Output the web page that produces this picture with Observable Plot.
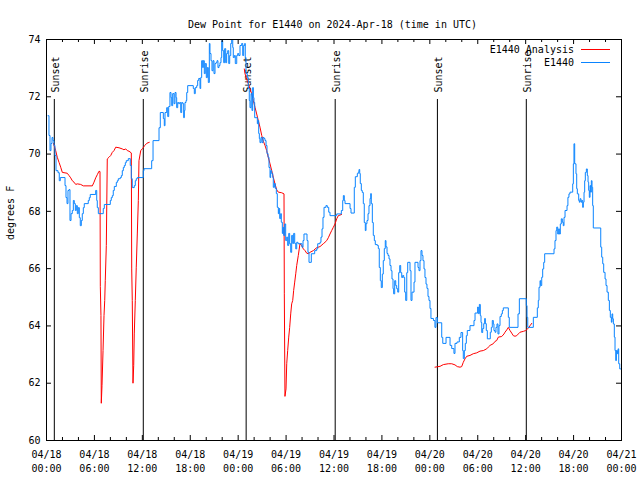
<!DOCTYPE html>
<html><head><meta charset="utf-8">
<script src="https://cdn.jsdelivr.net/npm/d3@7"></script>
<script src="https://cdn.jsdelivr.net/npm/@observablehq/plot@0.6"></script>
<style>body{margin:0;background:#fff}svg{display:block}</style>
</head><body><div id="chart"></div>
<script>
const title = "Dew Point for E1440 on 2024-Apr-18 (time in UTC)";
const yLabel = "degrees F";
const seriesNames = ["E1440 Analysis", "E1440"];
const seriesColors = ["#ff0000", "#0a84ff"];
const tickHours = [0, 6, 12, 18, 24, 30, 36, 42, 48, 54, 60, 66, 72];
const tickLabels = ["04/18\n00:00","04/18\n06:00","04/18\n12:00","04/18\n18:00","04/19\n00:00","04/19\n06:00","04/19\n12:00","04/19\n18:00","04/20\n00:00","04/20\n06:00","04/20\n12:00","04/20\n18:00","04/21\n00:00"];
const minorHours = [2, 4, 8, 10, 14, 16, 20, 22, 26, 28, 32, 34, 38, 40, 44, 46, 50, 52, 56, 58, 62, 64, 68, 70];
const yTicks = [60, 62, 64, 66, 68, 70, 72, 74];
const sunEvents = ["Sunset", "Sunrise", "Sunset", "Sunrise", "Sunset", "Sunrise"];
const sunHours = [0.98, 12.12, 25.0, 36.15, 48.95, 60.08];

// observed dew point (hours since 04/18 00:00 UTC, deg F)
const observed = [[0.19,71.34],[0.31,70.65],[0.44,70.12],[0.56,70.37],[0.69,70.58],[0.81,70.47],[0.94,70.30],[1.06,69.95],[1.19,69.42],[1.44,69.35],[1.60,69.07],[1.73,69.18],[2.32,68.90],[2.44,68.48],[2.57,68.27],[2.69,68.73],[2.82,68.76],[2.94,67.68],[3.07,67.92],[3.23,68.03],[3.36,68.38],[3.48,68.27],[3.61,68.03],[3.73,68.20],[3.86,67.92],[3.98,68.13],[4.11,67.78],[4.23,67.50],[4.36,67.68],[4.48,67.92],[4.61,68.13],[4.73,68.27],[5.23,68.38],[5.36,68.48],[5.48,68.59],[6.16,68.73],[6.29,68.38],[6.36,68.13],[6.49,67.92],[7.11,68.10],[7.24,68.24],[7.99,68.38],[8.11,68.48],[8.24,68.55],[8.36,68.73],[8.49,68.87],[8.74,69.01],[8.87,69.07],[8.99,69.14],[9.24,69.18],[9.37,69.25],[9.49,69.42],[9.62,69.53],[9.74,69.60],[9.87,69.70],[9.99,69.77],[10.24,69.84],[10.49,69.60],[10.62,69.14],[10.74,68.83],[10.99,68.90],[11.12,69.07],[11.24,69.14],[11.37,69.18],[12.12,69.42],[12.21,69.49],[13.17,69.77],[13.34,70.47],[14.09,70.92],[14.25,71.45],[14.63,71.24],[14.75,70.99],[14.84,71.45],[15.05,71.62],[15.18,71.31],[15.30,71.66],[15.46,72.15],[15.59,71.97],[15.68,71.69],[15.80,72.11],[15.97,71.76],[16.09,72.15],[16.22,71.97],[16.30,71.62],[16.43,71.80],[16.55,71.76],[16.68,71.80],[16.81,71.45],[16.93,71.80],[17.06,71.76],[17.18,71.27],[17.26,71.52],[17.34,71.80],[17.47,71.87],[17.56,72.15],[17.68,72.39],[18.38,72.29],[18.51,72.11],[18.63,72.32],[18.81,72.39],[18.93,72.57],[19.06,72.64],[19.22,72.29],[19.31,72.67],[19.43,73.26],[19.56,73.02],[19.63,73.26],[19.76,72.81],[19.88,73.16],[20.01,72.67],[20.14,73.02],[20.26,72.50],[20.39,73.86],[20.47,73.51],[20.60,73.26],[20.72,72.91],[20.85,73.26],[20.97,72.81],[21.10,73.16],[21.22,73.19],[21.35,73.26],[21.47,73.02],[21.60,73.09],[21.72,73.19],[21.85,73.37],[21.94,73.96],[22.06,73.61],[22.19,73.19],[22.31,73.68],[22.44,73.19],[22.56,73.51],[22.69,73.61],[22.82,73.16],[22.94,73.44],[23.07,73.86],[23.19,74.05],[23.32,73.72],[23.39,73.37],[23.52,73.44],[23.64,73.16],[23.82,73.44],[23.94,73.51],[24.07,73.44],[24.23,73.79],[24.44,73.86],[24.57,73.44],[24.69,73.79],[24.82,73.86],[24.89,73.37],[24.98,72.81],[25.14,72.67],[25.27,72.29],[25.39,71.87],[25.48,71.62],[25.61,72.11],[25.73,71.52],[25.82,72.32],[25.90,71.97],[25.98,71.80],[26.07,71.27],[26.40,71.06],[26.48,71.17],[26.57,70.72],[26.65,70.54],[26.73,70.40],[26.86,70.58],[26.99,70.40],[27.11,70.58],[27.24,70.54],[27.36,70.47],[27.49,70.30],[27.61,70.02],[27.74,69.89],[27.86,69.53],[27.99,69.18],[28.07,69.42],[28.20,69.32],[28.33,69.18],[28.40,68.84],[28.53,68.97],[28.65,68.80],[28.78,68.62],[28.90,68.14],[29.03,67.92],[29.11,68.10],[29.20,67.75],[29.33,67.92],[29.40,67.62],[29.53,67.23],[29.61,67.44],[29.70,67.16],[29.83,67.56],[29.95,66.98],[30.08,67.10],[30.20,66.81],[30.33,67.23],[30.45,66.87],[30.58,66.57],[30.70,67.16],[30.83,66.88],[30.95,67.23],[31.08,66.88],[31.21,66.69],[31.33,66.92],[31.49,66.87],[31.99,66.75],[32.12,66.98],[32.24,67.21],[32.62,66.98],[32.74,66.57],[32.87,66.22],[33.16,66.52],[33.58,66.63],[33.83,66.69],[33.96,66.87],[34.25,66.92],[34.37,67.10],[34.50,67.39],[34.62,67.79],[34.75,68.14],[34.99,68.20],[35.16,68.14],[35.34,67.97],[35.50,67.85],[36.34,67.91],[36.92,68.03],[37.09,68.38],[37.17,68.55],[37.29,68.38],[37.38,68.27],[38.01,68.10],[38.13,67.94],[38.54,68.84],[38.67,69.21],[38.92,69.32],[39.04,69.37],[39.13,69.46],[39.22,69.32],[39.29,68.97],[39.42,68.73],[39.54,68.66],[39.67,68.27],[39.79,67.61],[39.92,67.33],[40.01,67.57],[40.13,67.68],[40.26,67.92],[40.38,68.20],[40.51,68.45],[40.60,68.62],[40.67,68.27],[40.80,67.61],[40.92,67.16],[41.05,66.98],[41.17,66.84],[41.42,66.81],[41.55,66.70],[41.67,66.04],[41.80,65.58],[41.92,65.34],[42.05,65.81],[42.17,66.28],[42.30,66.70],[42.42,66.98],[42.51,66.76],[42.64,66.53],[42.76,66.46],[42.89,66.34],[43.01,66.11],[43.14,65.93],[43.26,65.64],[43.39,65.30],[43.47,65.12],[43.60,65.58],[43.73,65.41],[43.85,65.30],[43.98,65.18],[44.10,65.86],[44.23,66.11],[44.35,65.86],[44.48,65.69],[44.60,65.76],[44.73,65.69],[44.85,65.18],[44.98,64.89],[45.11,65.86],[45.23,66.22],[45.52,65.93],[45.64,64.89],[45.77,65.18],[46.02,65.53],[46.14,66.22],[46.52,66.04],[46.64,65.93],[46.77,66.28],[46.89,66.63],[47.02,66.46],[47.14,66.28],[47.27,65.99],[47.39,65.69],[47.52,65.46],[47.64,65.31],[47.77,65.03],[47.89,64.89],[48.02,64.61],[48.14,64.26],[48.45,64.19],[48.64,63.95],[48.77,64.29],[48.94,64.11],[49.49,63.60],[49.62,63.39],[50.03,63.60],[50.53,63.32],[50.74,63.21],[51.02,63.04],[51.15,63.39],[51.40,63.44],[51.69,63.60],[51.90,63.77],[52.11,63.14],[52.19,62.86],[52.32,63.14],[52.44,63.39],[52.57,63.66],[52.69,63.84],[53.03,64.01],[53.53,64.19],[53.66,64.45],[53.99,64.66],[54.07,64.43],[54.20,64.75],[54.32,64.36],[54.41,64.12],[54.50,63.77],[54.62,63.91],[54.75,64.08],[54.87,64.26],[54.95,64.08],[55.07,63.84],[55.20,63.55],[55.57,63.78],[55.70,63.95],[55.82,64.19],[55.95,64.07],[56.03,63.84],[56.16,63.78],[56.28,63.95],[56.41,64.07],[56.53,63.72],[56.66,64.01],[56.79,64.33],[56.95,64.42],[57.08,64.54],[57.20,64.63],[57.83,64.30],[57.95,63.95],[59.04,64.42],[59.21,64.95],[60.08,64.71],[60.17,64.30],[60.26,63.95],[60.96,64.30],[61.46,64.63],[61.58,64.89],[61.67,65.35],[61.80,65.58],[61.88,65.41],[62.01,65.70],[62.13,65.99],[62.26,66.22],[62.38,66.52],[63.55,66.69],[63.67,66.98],[63.80,67.33],[63.89,67.45],[64.01,67.21],[64.14,67.39],[64.21,67.21],[64.34,67.56],[64.46,67.74],[64.59,67.62],[64.71,67.50],[64.80,67.79],[64.93,68.03],[65.18,68.20],[65.29,68.49],[65.42,68.61],[65.55,68.67],[65.89,68.96],[65.97,69.66],[66.05,70.36],[66.14,69.66],[66.30,69.31],[66.39,68.79],[66.47,68.61],[66.64,68.38],[66.72,68.32],[66.81,68.44],[66.93,68.32],[67.02,68.38],[67.14,68.14],[67.22,68.32],[67.31,68.67],[67.39,69.07],[67.47,69.36],[67.60,69.48],[67.72,69.25],[67.81,69.02],[67.89,68.73],[67.97,68.49],[68.06,68.90],[68.14,68.67],[68.22,69.07],[68.31,68.84],[68.39,68.20],[68.47,67.42],[69.40,66.75],[69.52,66.40],[69.65,66.17],[69.77,65.87],[69.94,65.64],[70.06,65.41],[70.19,65.18],[70.35,64.89],[70.48,64.54],[70.60,64.30],[70.73,64.13],[70.81,64.42],[70.90,64.25],[70.98,64.07],[71.10,63.61],[71.19,63.14],[71.28,62.79],[71.36,63.14],[71.48,63.03],[71.57,63.20],[71.65,62.68],[71.78,62.50],[71.90,62.50]];

// analysis, night 1
const analysisNight1 = [[0.88,70.37],[1.15,70.12],[1.35,69.89],[1.57,69.71],[1.78,69.54],[1.98,69.36],[2.60,69.33],[2.82,69.25],[3.03,69.17],[3.23,69.07],[3.44,69.02],[3.66,68.94],[3.86,68.96],[4.28,68.94],[4.61,68.89],[5.74,68.89],[5.95,69.02],[6.16,69.17],[6.36,69.28],[6.57,69.40],[6.70,69.39],[6.74,65.38],[6.82,64.36],[6.86,61.30],[6.95,61.92],[7.08,63.14],[7.20,64.36],[7.29,64.89],[7.36,65.58],[7.49,66.81],[7.61,69.83],[7.83,69.89],[8.04,69.95],[8.24,70.06],[8.45,70.12],[8.67,70.24],[9.08,70.22],[9.49,70.18],[9.70,70.15],[9.92,70.18],[10.12,70.12],[10.33,70.10],[10.62,70.04],[10.67,65.99],[10.74,64.89],[10.83,62.00],[10.92,62.62],[10.99,63.72],[11.12,64.89],[11.24,66.05],[11.37,67.21],[11.50,68.38],[11.58,69.77],[11.80,70.12],[12.05,70.20],[12.30,70.30],[12.58,70.38],[12.87,70.41]];
// analysis, night 2
const analysisNight2 = [[24.77,72.97],[24.86,72.80],[25.07,72.62],[25.27,72.45],[25.48,72.28],[25.70,72.10],[25.90,71.87],[26.11,71.63],[26.32,71.40],[26.52,71.17],[26.73,70.94],[26.95,70.65],[27.15,70.45],[27.36,70.30],[27.57,70.12],[27.77,69.89],[27.99,69.66],[28.20,69.42],[28.40,69.19],[28.61,68.96],[28.83,68.75],[29.03,68.67],[29.45,68.65],[29.74,68.61],[29.78,65.12],[29.86,61.54],[29.99,61.80],[30.08,62.68],[30.20,63.14],[30.33,63.61],[30.45,63.95],[30.58,64.42],[30.70,64.77],[30.83,64.89],[30.95,65.24],[31.08,65.53],[31.21,65.82],[31.33,66.11],[31.53,66.46],[31.74,66.87],[31.96,66.81],[32.16,66.69],[32.37,66.63],[32.58,66.54],[32.78,66.52],[33.00,66.57],[33.41,66.63],[33.83,66.73],[34.25,66.77],[34.66,66.87],[34.87,66.92],[35.09,66.98],[35.29,67.08],[35.50,67.21],[35.71,67.33],[35.91,67.44],[36.13,67.56],[36.34,67.74],[36.54,67.85],[36.94,67.89]];
// analysis, night 3
const analysisNight3 = [[48.65,62.56],[49.28,62.59],[49.69,62.65],[50.31,62.68],[50.74,62.68],[51.15,62.64],[51.44,62.58],[51.78,62.56],[51.99,62.58],[52.19,62.73],[52.40,62.85],[52.62,62.94],[53.03,62.97],[53.44,63.03],[53.87,63.06],[54.28,63.12],[54.70,63.14],[55.12,63.20],[55.32,63.26],[55.54,63.32],[55.95,63.38],[56.16,63.46],[56.37,63.49],[56.58,63.61],[57.00,63.63],[57.29,63.72],[57.41,63.78],[57.63,63.86],[57.83,63.95],[58.04,63.84],[58.25,63.75],[58.45,63.66],[58.67,63.64],[58.88,63.66],[59.08,63.72],[59.29,63.78],[59.71,63.81],[60.01,63.84],[60.26,63.90],[60.55,64.01],[60.76,64.09]];

const FONT = "DejaVu Sans Mono";
const sunIdx = sunHours.map((d, i) => i);

const chart = Plot.plot({
  width: 640, height: 480,
  marginLeft: 46, marginRight: 19, marginTop: 39, marginBottom: 40,
  style: {fontFamily: FONT, fontSize: "10px", background: "#ffffff", color: "#000000"},
  x: {type: "linear", domain: [0, 72]},
  y: {type: "linear", domain: [60, 74]},
  marks: [
    Plot.axisX({ticks: tickHours, tickFormat: d => tickLabels[tickHours.indexOf(d)], tickSize: 0, tickPadding: 7, lineHeight: 1.45, label: null, fontSize: 10}),
    Plot.axisY({ticks: yTicks, tickSize: 0, tickPadding: 6, label: null, fontSize: 10}),
    // sunrise / sunset markers (line starts below the label)
    Plot.ruleX(sunIdx, {x: i => sunHours[i], y1: 74, y2: 60, insetTop: 60, stroke: "#000", strokeWidth: 1}),
    Plot.text(sunIdx, {x: i => sunHours[i], y: 74, text: i => sunEvents[i], rotate: -90, textAnchor: "start", dy: 53, dx: 1.5, fontSize: 10}),
    // series
    Plot.line(analysisNight1, {x: d => d[0], y: d => d[1], stroke: seriesColors[0], strokeWidth: 1, clip: true}),
    Plot.line(analysisNight2, {x: d => d[0], y: d => d[1], stroke: seriesColors[0], strokeWidth: 1, clip: true}),
    Plot.line(analysisNight3, {x: d => d[0], y: d => d[1], stroke: seriesColors[0], strokeWidth: 1, clip: true}),
    Plot.line(observed, {x: d => d[0], y: d => d[1], stroke: seriesColors[1], strokeWidth: 1, curve: "step-after", clip: true}),
    // inward ticks (bottom/top major & minor, left/right)
    Plot.ruleX(tickHours, {x: d => d, y1: 60, y2: 60, insetTop: -5, stroke: "#000"}),
    Plot.ruleX(tickHours, {x: d => d, y1: 74, y2: 74, insetBottom: -5, stroke: "#000"}),
    Plot.ruleX(minorHours, {x: d => d, y1: 60, y2: 60, insetTop: -3, stroke: "#000"}),
    Plot.ruleX(minorHours, {x: d => d, y1: 74, y2: 74, insetBottom: -3, stroke: "#000"}),
    Plot.ruleY(yTicks, {y: d => d, x1: 0, x2: 0, insetRight: -5, stroke: "#000"}),
    Plot.ruleY(yTicks, {y: d => d, x1: 72, x2: 72, insetLeft: -5, stroke: "#000"}),
    Plot.frame({stroke: "#000"}),
    Plot.text([title], {frameAnchor: "top", dy: -19, dx: -1.5, fontSize: 10}),
    Plot.text([yLabel], {frameAnchor: "left", rotate: -90, dx: -36, fontSize: 10})
  ]
});
document.getElementById("chart").append(chart);

// legend (top-right, inside the frame)
const svg = d3.select(chart);
const lg = svg.append("g").attr("font-family", FONT).attr("font-size", 10);
seriesNames.forEach((name, i) => {
  const yy = 49.5 + i * 13;
  lg.append("text").attr("x", 574).attr("y", yy).attr("dy", "0.32em").attr("text-anchor", "end").attr("fill", "#000").text(name);
  lg.append("line").attr("x1", 581).attr("x2", 610).attr("y1", yy).attr("y2", yy).attr("stroke", seriesColors[i]).attr("stroke-width", 1);
});
</script>
</body></html>
